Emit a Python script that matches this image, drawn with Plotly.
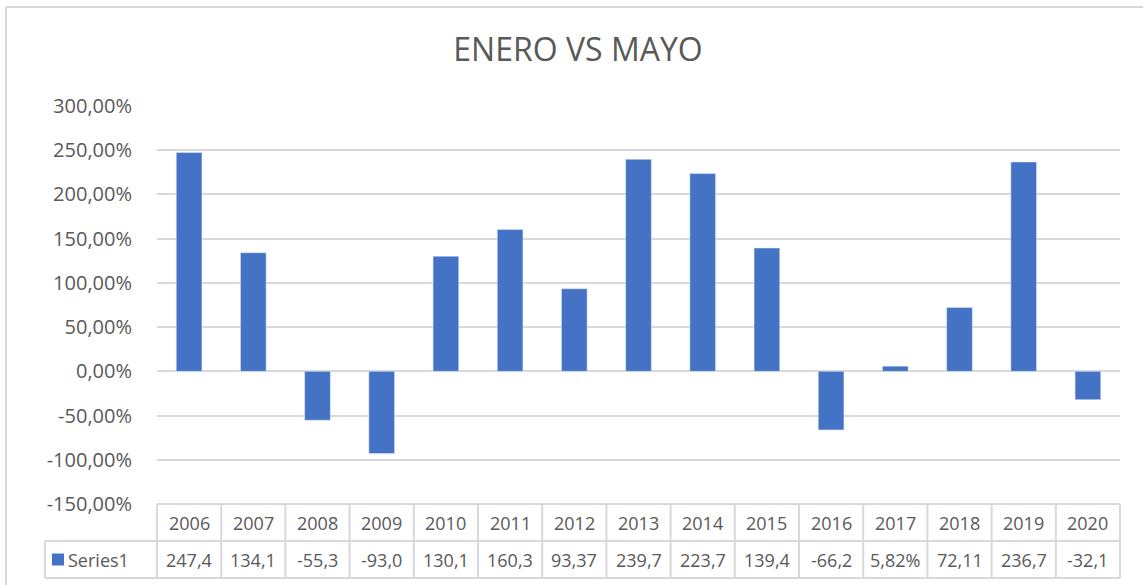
import plotly.graph_objects as go

years = ["2006", "2007", "2008", "2009", "2010", "2011", "2012", "2013",
         "2014", "2015", "2016", "2017", "2018", "2019", "2020"]
values_pct = [247.4, 134.1, -55.3, -93.0, 130.1, 160.3, 93.37, 239.7,
              223.7, 139.4, -66.2, 5.82, 72.11, 236.7, -32.1]
table_labels = ["247,4", "134,1", "-55,3", "-93,0", "130,1", "160,3", "93,37",
                "239,7", "223,7", "139,4", "-66,2", "5,82%", "72,11", "236,7", "-32,1"]
series_name = "Series1"
title_text = "ENERO VS MAYO"
y_ticks = [3.0, 2.5, 2.0, 1.5, 1.0, 0.5, 0.0, -0.5, -1.0, -1.5]
y_tick_labels = ["300,00%", "250,00%", "200,00%", "150,00%", "100,00%", "50,00%",
                 "0,00%", "-50,00%", "-100,00%", "-150,00%"]

values = [v / 100 for v in values_pct]

BAR = "#4472C4"
GRID = "#D9D9D9"
TXT = "#595959"
FONT = "Open Sans"

W, H = 1143, 585
L, R, T, B = 157, 1120, 106, 504
pw, ph = R - L, B - T

fig = go.Figure()
fig.add_trace(go.Bar(x=years, y=values, marker_color=BAR, width=0.4,
                     name=series_name, showlegend=False, hoverinfo="skip"))

n = len(years)
shapes = []
row1 = -37 / ph
row2 = -74 / ph
legend_left = (45 - L) / pw


def ln(x0, x1, y0, y1, color=GRID):
    return dict(type="line", xref="paper", yref="paper", x0=x0, x1=x1, y0=y0, y1=y1,
                line=dict(color=color, width=2), layer="above")


shapes.append(ln(0, 1, 0, 0))
shapes.append(ln(legend_left, 1, row1, row1))
shapes.append(ln(legend_left, 1, row2, row2))
for i in range(n + 1):
    shapes.append(ln(i / n, i / n, 0, row2))
shapes.append(ln(legend_left, legend_left, row1, row2))
# legend square
sq = 12
shapes.append(dict(type="rect", xref="paper", yref="paper",
                   x0=(52 - L) / pw, x1=(52 + sq - L) / pw,
                   y0=(row1 + row2) / 2 - (sq / 2) / ph, y1=(row1 + row2) / 2 + (sq / 2) / ph,
                   fillcolor=BAR, line=dict(width=0)))
# outer chart border (left and top edges visible)
shapes.append(ln((6 - L) / pw, (6 - L) / pw, (B - 600) / ph, (B - 7) / ph))
shapes.append(ln((6 - L) / pw, (1160 - L) / pw, (B - 7) / ph, (B - 7) / ph))

annotations = []
tfont = dict(size=18, color=TXT, family=FONT)
for i, (yr, lab) in enumerate(zip(years, table_labels)):
    annotations.append(dict(x=(i + 0.5) / n, y=row1 / 2, xref="paper", yref="paper",
                            xanchor="center", yanchor="middle",
                            text=yr, showarrow=False, font=tfont))
    annotations.append(dict(x=(i + 0.5) / n, y=(row1 + row2) / 2, xref="paper", yref="paper",
                            xanchor="center", yanchor="middle",
                            text=lab, showarrow=False, font=tfont))
annotations.append(dict(x=(66 - L) / pw, y=(row1 + row2) / 2, xref="paper", yref="paper",
                        xanchor="left", yanchor="middle", text=series_name, showarrow=False,
                        font=tfont))

fig.update_layout(
    width=W, height=H,
    margin=dict(l=L, r=W - R, t=T, b=H - B, pad=0),
    paper_bgcolor="white", plot_bgcolor="white",
    title=dict(text=title_text, x=578 / W, xref="container", xanchor="center",
               y=1 - 50 / H, yref="container", yanchor="middle",
               font=dict(size=32, color=TXT, family=FONT)),
    font=dict(family=FONT, color=TXT),
    xaxis=dict(type="category", range=[-0.5, n - 0.5], showticklabels=False,
               showgrid=False, zeroline=False, showline=False, ticks="", fixedrange=True),
    yaxis=dict(range=[-1.5, 3.0], tickvals=y_ticks, ticktext=y_tick_labels,
               showgrid=True, gridcolor=GRID, gridwidth=1.5, zeroline=False,
               showline=False, ticks="", ticklabelstandoff=24, fixedrange=True,
               tickfont=dict(size=20, color=TXT, family=FONT)),
    shapes=shapes, annotations=annotations, bargap=0.6,
)

fig.write_html("out.html", config={"displayModeBar": False},
               post_script="document.body.style.margin='0';")
